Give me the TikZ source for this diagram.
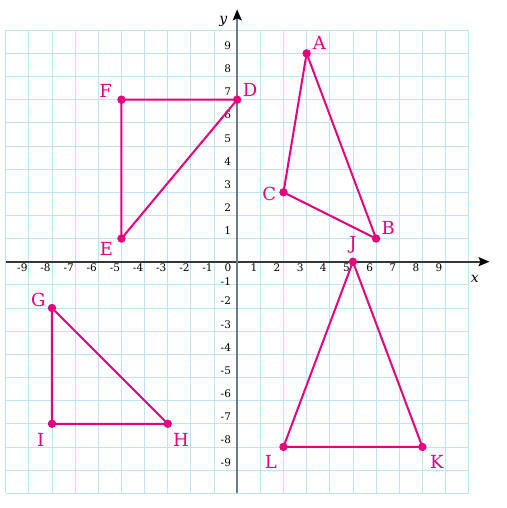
\documentclass[tikz,border=0pt]{standalone}
\usepackage{fontspec}
\setmainfont{DejaVu Serif}
\usepackage{tikz}
\usetikzlibrary{arrows.meta}
\definecolor{ptpink}{RGB}{230,0,126}
\definecolor{gridblue}{RGB}{190,228,245}
\definecolor{yaxisgray}{RGB}{110,124,134}
\definecolor{xaxisgray}{RGB}{55,55,55}

\begin{document}
\begin{tikzpicture}[x=23.15pt, y=23.15pt,
    gridline/.style={gridblue, line width=0.8pt},
    axisline/.style={line width=1.6pt, -{Stealth[length=11pt, width=9pt, inset=2pt, color=black]}},
    edge/.style={ptpink, line width=2pt, line join=round},
    ptlabel/.style={ptpink, inner sep=0pt, font=\fontsize{18}{18}\selectfont},
    tick/.style={inner sep=0pt, font=\fontsize{10.5}{11}\selectfont}]
        \useasboundingbox (-10.246,-10.639) rectangle (11.612,11.305);

        % Grid
        \draw[gridline, step=23.15pt] (-10,-10) grid (10,10);

        % Axes
        \coordinate (xstart) at (-10,0);
        \coordinate (xend) at (10.9,0);
        \coordinate (ystart) at (0,-10);
        \coordinate (yend) at (0,10.9);
        \draw[axisline, xaxisgray] (xstart) -- (xend);
        \draw[axisline, yaxisgray] (ystart) -- (yend);
        \node[font=\fontsize{14}{14}\selectfont\itshape] (xlab) at (10.27,-0.76) {x};
        \node[font=\fontsize{14}{14}\selectfont\itshape] (ylab) at (-0.6,10.4) {y};

        % Tick labels
        \foreach \x in {-9,...,-1,1,2,...,9}{
          \node[tick] (xt\x) at (\x-0.28,-0.27) {\x};
        }
        \node[tick] (zero) at (-0.4,-0.27) {0};
        \foreach \y in {1,...,9}{
          \node[tick, anchor=east] (yt\y) at (-0.26,\y+0.33) {\y};
        }
        \foreach \y/\dy in {-1/0.13,-2/0.3,-3/0.3,-4/0.3,-5/0.3,-6/0.3,-7/0.3,-8/0.3,-9/0.3}{
          \node[tick, anchor=east] (yt\y) at (-0.26,\y+\dy) {\y};
        }

        % Vertices
        \coordinate (A) at (3,9);
        \coordinate (B) at (6,1);
        \coordinate (C) at (2,3);
        \coordinate (D) at (0,7);
        \coordinate (E) at (-5,1);
        \coordinate (F) at (-5,7);
        \coordinate (G) at (-8,-2);
        \coordinate (H) at (-3,-7);
        \coordinate (I) at (-8,-7);
        \coordinate (J) at (5,0);
        \coordinate (K) at (8,-8);
        \coordinate (L) at (2,-8);

        % Triangles
        \draw[edge] (A) -- (B) -- (C) -- cycle;
        \draw[edge] (D) -- (E) -- (F) -- cycle;
        \draw[edge] (G) -- (H) -- (I) -- cycle;
        \draw[edge] (J) -- (K) -- (L) -- cycle;
        \foreach \p in {A,B,C,D,E,F,G,H,I,J,K,L}{
          \fill[ptpink] (\p) circle (4.2pt);
        }

        % Labels
        \node[ptlabel] (labA) at (3.55,9.45) {A};
        \node[ptlabel] (labB) at (6.52,1.48) {B};
        \node[ptlabel] (labC) at (1.38,2.93) {C};
        \node[ptlabel] (labD) at (0.56,7.4) {D};
        \node[ptlabel] (labE) at (-5.65,0.55) {E};
        \node[ptlabel] (labF) at (-5.68,7.37) {F};
        \node[ptlabel] (labG) at (-8.59,-1.64) {G};
        \node[ptlabel] (labH) at (-2.43,-7.69) {H};
        \node[ptlabel] (labI) at (-8.49,-7.72) {I};
        \node[ptlabel] (labJ) at (5,0.72) {J};
        \node[ptlabel] (labK) at (8.62,-8.65) {K};
        \node[ptlabel] (labL) at (1.45,-8.65) {L};
      \end{tikzpicture}
\end{document}
